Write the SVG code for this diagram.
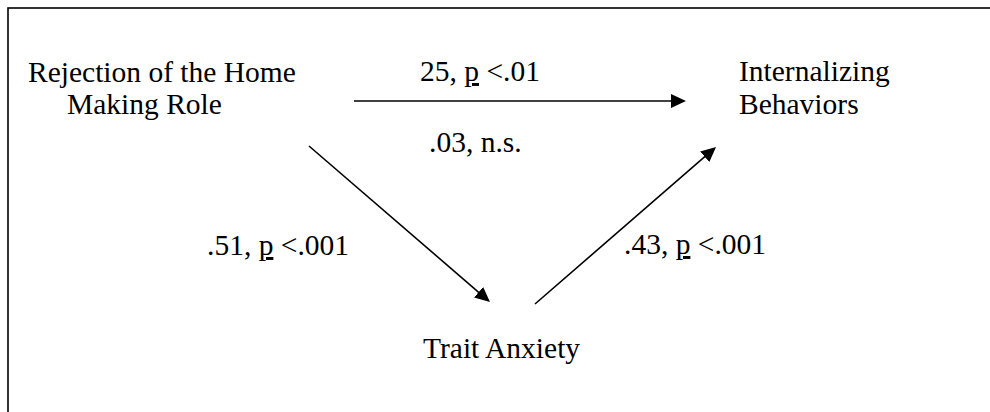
<svg xmlns="http://www.w3.org/2000/svg" width="990" height="412" viewBox="0 0 990 412">
<style>
text{font-family:'Liberation Serif',serif;font-size:29.5px;fill:#000}
.u{text-decoration:underline}
.c{stroke:#000;stroke-width:1.6;fill:none}
</style>
<defs>
<marker id="ah" markerUnits="userSpaceOnUse" markerWidth="16" markerHeight="15" refX="7" refY="7" orient="auto">
<path d="M0,0 L15,7 L0,14 z" fill="#000"/>
</marker>
</defs>
<rect width="990" height="412" fill="#fff"/>
<rect x="8" y="8" width="1000" height="430" fill="none" stroke="#000" stroke-width="1.6"/>
<g id="connectors">
<line class="c" x1="354" y1="101" x2="678" y2="101" marker-end="url(#ah)"/>
<line class="c" x1="309" y1="146" x2="483.9" y2="296.8" marker-end="url(#ah)"/>
<line class="c" x1="535" y1="304" x2="710" y2="152.2" marker-end="url(#ah)"/>
<text font-family="Liberation Serif, serif" x="420" y="81">25, <tspan class="u">p</tspan> &lt;.01</text>
<text font-family="Liberation Serif, serif" x="429" y="152">.03, n.s.</text>
<text font-family="Liberation Serif, serif" x="207" y="255">.51, <tspan class="u">p</tspan> &lt;.001</text>
<text font-family="Liberation Serif, serif" x="624" y="254">.43, <tspan class="u">p</tspan> &lt;.001</text>
</g>
<g id="rejection">
<text font-family="Liberation Serif, serif" x="28" y="82">Rejection of the Home</text>
<text font-family="Liberation Serif, serif" x="67" y="114">Making Role</text>
</g>
<g id="internalizing">
<text font-family="Liberation Serif, serif" x="739" y="81">Internalizing</text>
<text font-family="Liberation Serif, serif" x="739" y="114">Behaviors</text>
</g>
<g id="anxiety">
<text font-family="Liberation Serif, serif" x="423" y="358">Trait Anxiety</text>
</g>
</svg>
